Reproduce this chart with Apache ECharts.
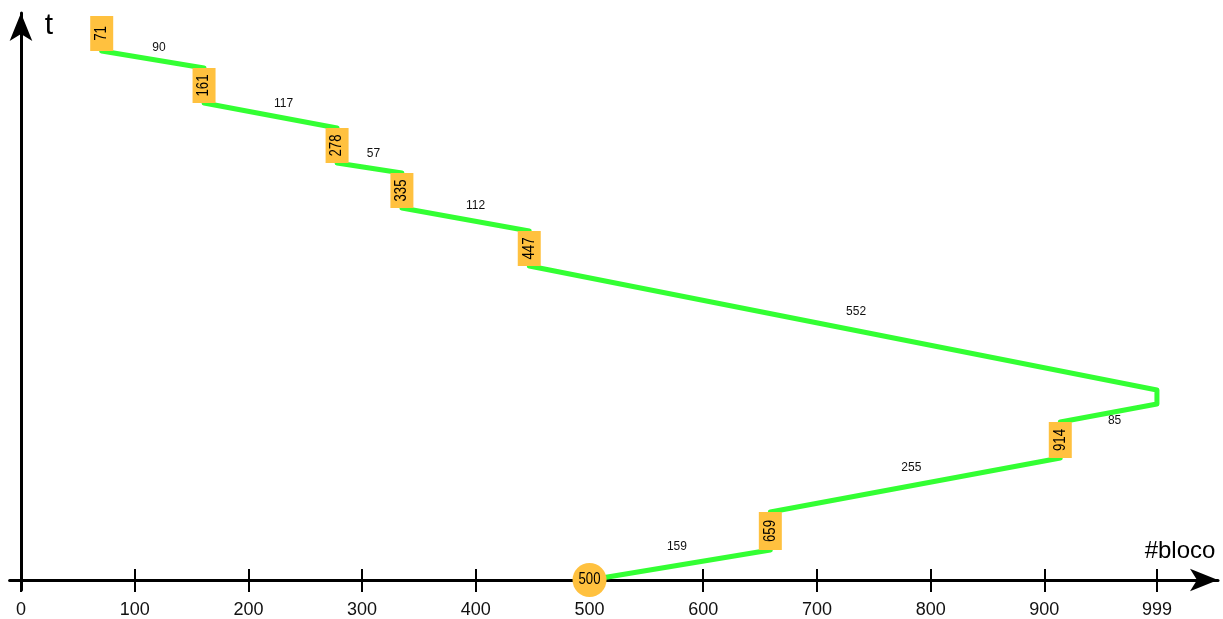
<!DOCTYPE html>
<html><head><meta charset="utf-8">
<script src="https://cdn.jsdelivr.net/npm/echarts@6/dist/echarts.min.js"></script>
<style>html,body{margin:0;padding:0;background:#fff}#c{width:1223px;height:619px}</style>
</head><body><div id="c"></div>
<script>
// ---- data ----
const startBlock = 500;
const startTime = 0;
const visitOrder = [659, 914, 999, 447, 335, 278, 161, 71];
const arriveTime = [30, 122, 176, 314, 372, 417, 477, 529];
const leaveTime  = [68, 158, 190, 349, 407, 452, 512, 564];
const isRequest  = [true, true, false, true, true, true, true, true];
const seekLabels = ['159', '255', '85', '552', '112', '57', '117', '90'];
const xTickValues = [0, 100, 200, 300, 400, 500, 600, 700, 800, 900, 999];
const xTickLabels = ['0', '100', '200', '300', '400', '500', '600', '700', '800', '900', '999'];
const xAxisName = '#bloco';
const yAxisName = 't';

// ---- styles ----
const GREEN = '#33ff33';
const ORANGE = '#ffc13f';
const SANS = '"Liberation Sans", Arial, sans-serif';
const NARROW_SCALE = 0.82;
// pixel offsets of seek labels from the middle of their segment
const seekLabelOffsets = [[-3, -18], [-4, -17], [6, 8], [13, -16], [10, -14], [4, -14], [13, -12], [6, -12]];

// ---- build ----
const path = [[startBlock, startTime]];
visitOrder.forEach((b, i) => {
  path.push([b, arriveTime[i]]);
  if (i < visitOrder.length - 1) path.push([b, leaveTime[i]]);
});

const boxes = [];
visitOrder.forEach((b, i) => { if (isRequest[i]) boxes.push([b, arriveTime[i], leaveTime[i], String(b)]); });

const mids = visitOrder.map((b, i) => {
  const px = i === 0 ? startBlock : visitOrder[i - 1];
  const pt = i === 0 ? startTime : leaveTime[i - 1];
  return [(px + b) / 2, (pt + arriveTime[i]) / 2, i];
});

const chart = echarts.init(document.getElementById('c'), null, { renderer: 'canvas' });
chart.setOption({
  animation: false,
  backgroundColor: '#fff',
  grid: { left: 9.6, right: 5, top: 13, bottom: 29, outerBoundsMode: 'none' },
  xAxis: [{
    type: 'value', min: -10, max: 1052.7,
    axisLine: { show: true, onZero: true, symbol: ['none', 'arrow'], symbolSize: [17, 28],
      lineStyle: { color: '#000', width: 3 } },
    axisTick: { show: true, customValues: xTickValues, length: 12, lineStyle: { color: '#000', width: 2 } },
    axisLabel: { show: true, customValues: xTickValues, margin: 11, color: '#111', fontSize: 18,
      fontFamily: SANS, hideOverlap: false,
      formatter: v => { const k = xTickValues.indexOf(v); return k >= 0 ? xTickLabels[k] : ''; } },
    splitLine: { show: false }
  }, {
    type: 'value', min: -10, max: 1052.7, position: 'bottom',
    axisLine: { show: false, onZero: true, onZeroAxisIndex: 0 },
    axisTick: { show: true, inside: true, customValues: xTickValues, length: 11, lineStyle: { color: '#000', width: 2 } },
    axisLabel: { show: false },
    splitLine: { show: false }
  }],
  yAxis: {
    type: 'value', min: -10, max: 567,
    axisLine: { show: true, onZero: true, symbol: ['none', 'arrow'], symbolSize: [17, 28],
      lineStyle: { color: '#000', width: 3 } },
    axisTick: { show: false }, axisLabel: { show: false }, splitLine: { show: false }
  },
  graphic: [
    { type: 'text', x: 49, y: 26, style: { text: yAxisName, font: '30px ' + SANS, fill: '#000', align: 'center', verticalAlign: 'middle' } },
    { type: 'text', x: 1180, y: 551, style: { text: xAxisName, font: '24px ' + SANS, fill: '#000', align: 'center', verticalAlign: 'middle' } }
  ],
  series: [
    {
      type: 'line', xAxisIndex: 0, yAxisIndex: 0, data: path, showSymbol: false, clip: false, z: 2,
      lineStyle: { color: GREEN, width: 5, cap: 'round', join: 'round' }
    },
    {
      type: 'custom', xAxisIndex: 0, yAxisIndex: 0, data: boxes, clip: false, z: 5,
      renderItem: (params, api) => {
        const x = api.value(0);
        const p0 = api.coord([x, api.value(1)]);
        const p1 = api.coord([x, api.value(2)]);
        const w = 23;
        return { type: 'group', children: [
          { type: 'rect', shape: { x: p0[0] - w / 2, y: p1[1], width: w, height: p0[1] - p1[1] }, style: { fill: ORANGE } },
          { type: 'text', x: p0[0], y: (p0[1] + p1[1]) / 2, rotation: Math.PI / 2, scaleX: NARROW_SCALE,
            style: { text: boxes[params.dataIndex][3], x: 0, y: 0, align: 'center', verticalAlign: 'middle', font: '16px ' + SANS, fill: '#000' } }
        ] };
      }
    },
    {
      type: 'custom', xAxisIndex: 0, yAxisIndex: 0, data: mids, clip: false, z: 6,
      renderItem: (params, api) => {
        const p = api.coord([api.value(0), api.value(1)]);
        const k = api.value(2);
        const o = seekLabelOffsets[k];
        return { type: 'text', x: p[0] + o[0], y: p[1] + o[1],
          style: { text: seekLabels[k], align: 'center', verticalAlign: 'middle', font: '12px ' + SANS, fill: '#111' } };
      }
    },
    {
      type: 'custom', xAxisIndex: 0, yAxisIndex: 0, data: [[startBlock, startTime]], clip: false, z: 7,
      renderItem: (params, api) => {
        const p = api.coord([api.value(0), api.value(1)]);
        return { type: 'group', children: [
          { type: 'circle', shape: { cx: p[0], cy: p[1], r: 17 }, style: { fill: ORANGE } },
          { type: 'text', x: p[0], y: p[1], scaleX: NARROW_SCALE,
            style: { text: String(startBlock), x: 0, y: 0, align: 'center', verticalAlign: 'middle', font: '16px ' + SANS, fill: '#000' } }
        ] };
      }
    }
  ]
});
</script></body></html>
